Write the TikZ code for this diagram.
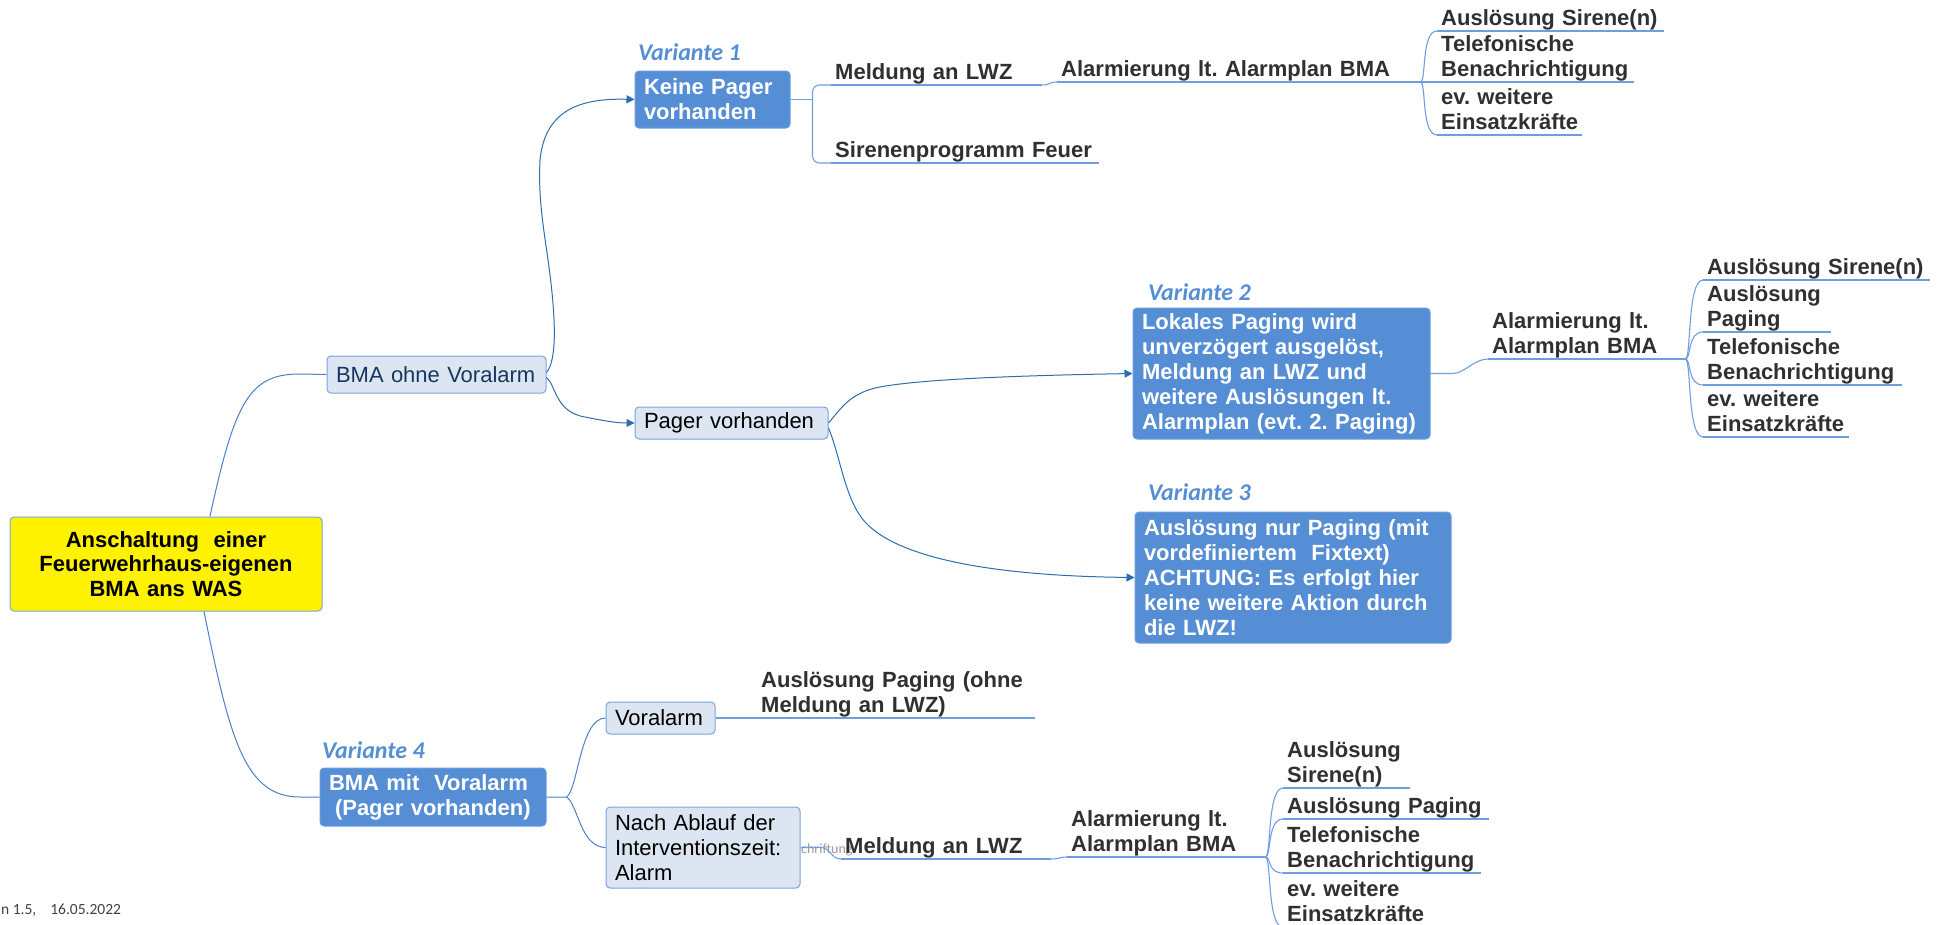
\documentclass[tikz,border=0pt]{standalone}
\usepackage{fontspec}
\setmainfont{Liberation Sans}
\newfontfamily\calibri{Carlito}
\usetikzlibrary{arrows.meta,calc}
\hyphenpenalty=10000
\exhyphenpenalty=10000
\frenchspacing

\definecolor{vblue}{HTML}{558ED5}
\definecolor{vblueline}{HTML}{6B9CE0}
\definecolor{lblue}{HTML}{DCE6F2}
\definecolor{lblueline}{HTML}{7AA3DC}
\definecolor{rootline}{HTML}{4A80C8}
\definecolor{arrline}{HTML}{2C6DB0}
\definecolor{subline}{HTML}{6E9EDF}
\definecolor{txtgray}{HTML}{303030}
\definecolor{navy}{HTML}{17365D}

\begin{document}
\begin{tikzpicture}[x=1pt,y=-1pt,
    box/.style={rounded corners=4pt, line width=1pt, inner xsep=9pt, inner ysep=0pt, align=left},
    rootbox/.style={box, fill=yellow, draw=lblueline, align=center, font=\fontsize{22}{24.7}\selectfont\bfseries},
    vbox/.style={box, fill=vblue, draw=vblueline, text=white, font=\fontsize{22}{25}\selectfont\bfseries},
    lbox/.style={box, fill=lblue, draw=lblueline, text=black, font=\fontsize{22}{25}\selectfont},
    vlabel/.style={anchor=base west, inner sep=0pt, text=vblue, font=\fontsize{24}{28}\calibri\bfseries\itshape},
    topic/.style={anchor=south west, inner xsep=4pt, inner ysep=0pt, align=left, text=txtgray,
        font=\fontsize{22}{25}\selectfont\bfseries, execute at end node={\rule[-5pt]{0pt}{5pt}}},
    rootcon/.style={draw=rootline, line width=1pt},
    arr/.style={draw=arrline, line width=1pt, -{Triangle[length=8pt,width=8pt]}},
    sub/.style={draw=subline, line width=1.1pt}]
    \useasboundingbox (0,0) rectangle (1943,924);
    %中心主题
    \node[rootbox, text width=294pt, minimum height=94pt] (root) at (166,564)
        {Anschaltung\ \ einer\\Feuerwehrhaus-eigenen\\BMA ans WAS};
    %一级和二级主题
    \node[lbox, text=navy, text width=201pt, minimum height=37pt] (ohne) at (436.5,374.5) {BMA ohne Voralarm};
    \node[lbox, text width=175pt, minimum height=32pt] (pager) at (731.5,423) {Pager vorhanden};
    \node[vbox, text width=137pt, minimum height=57pt] (v1) at (712.5,99.5) {Keine Pager\\vorhanden};
    \node[vbox, text width=279pt, minimum height=131pt] (v2) at (1281.5,373.5)
        {Lokales Paging wird\\unverzögert ausgelöst,\\Meldung an LWZ und\\weitere Auslösungen lt.\\Alarmplan (evt. 2. Paging)};
    \node[vbox, text width=298pt, minimum height=131pt] (v3) at (1293,577.5)
        {Auslösung nur Paging (mit\\vordefiniertem\ \ Fixtext)\\ACHTUNG: Es erfolgt hier\\keine weitere Aktion durch\\die LWZ!};
    \node[vbox, text width=208pt, minimum height=58pt] (v4) at (433,797)
        {BMA mit\ \ Voralarm\\\hspace*{6pt}(Pager vorhanden)};
    \node[lbox, text width=91pt, minimum height=32pt] (vor) at (660.5,718) {Voralarm};
    \node[lbox, text width=176pt, minimum height=81pt] (nach) at (703,847.5)
        {Nach Ablauf der\\Interventionszeit:\\Alarm};
    %标签 Variante
    \node[vlabel] (lv1) at (638,60) {Variante 1};
    \node[vlabel] (lv2) at (1148,300) {Variante 2};
    \node[vlabel] (lv3) at (1148,500) {Variante 3};
    \node[vlabel] (lv4) at (322,758) {Variante 4};
    %残留的浅色文字
    \node[anchor=west, inner sep=0pt, text=black!40, font=\fontsize{14}{17}\calibri] (hint) at (801,850) {chriftung};
    %Variante 1 的分支
    \node[topic, text width=203pt] (t1a) at (831,85) {Meldung an LWZ};
    \node[topic, text width=355pt] (t1b) at (1057,82) {Alarmierung lt. Alarmplan BMA};
    \node[topic, text width=219pt] (t1c) at (1437,31) {Auslösung Sirene(n)};
    \node[topic, text width=189pt] (t1d) at (1437,82) {Telefonische\\Benachrichtigung};
    \node[topic, text width=137pt] (t1e) at (1437,135) {ev. weitere\\Einsatzkräfte};
    \node[topic, text width=260pt] (t1f) at (831,163) {Sirenenprogramm Feuer};
    %Variante 2 的分支
    \node[topic, text width=189pt] (t2a) at (1488,359) {Alarmierung lt.\\Alarmplan BMA};
    \node[topic, text width=219pt] (t2b) at (1703,280) {Auslösung Sirene(n)};
    \node[topic, text width=120pt] (t2c) at (1703,332) {Auslösung\\Paging};
    \node[topic, text width=191pt] (t2d) at (1703,385) {Telefonische\\Benachrichtigung};
    \node[topic, text width=138pt] (t2e) at (1703,437) {ev. weitere\\Einsatzkräfte};
    %Variante 4 的分支
    \node[topic, text width=270pt] (t4a) at (757,718) {Auslösung Paging (ohne\\Meldung an LWZ)};
    \node[topic, text width=202pt] (t4b) at (841,859) {Meldung an LWZ};
    \node[topic, text width=190pt] (t4c) at (1067,857) {Alarmierung lt.\\Alarmplan BMA};
    \node[topic, text width=119pt] (t4d) at (1283,788) {Auslösung\\Sirene(n)};
    \node[topic, text width=198pt] (t4e) at (1283,819) {Auslösung Paging};
    \node[topic, text width=190pt] (t4f) at (1283,873) {Telefonische\\Benachrichtigung};
    \node[topic, text width=141pt] (t4g) at (1283,927) {ev. weitere\\Einsatzkräfte};
    %版本号
    \node[anchor=base west, inner sep=0pt, text=black!75, font=\fontsize{15.5}{18}\calibri] (ver) at (1,914)
        {n 1.5,\hspace{14pt}16.05.2022};
    %中心主题的连线
    \draw[rootcon] ([xshift=44pt]root.north) .. controls (235,400) and (250,374) .. (300,374) -- (ohne.west);
    \draw[rootcon] ([xshift=38pt]root.south) .. controls (230,740) and (245,797) .. (300,797) -- (v4.west);
    %带箭头的连线
    \draw[arr] ([yshift=2pt]ohne.east) .. controls (557,360) and (556,320) .. (549,267)
        .. controls (544,230) and (538,200) .. (540,160) .. controls (545,110) and (580,98) .. (v1.west);
    \draw[arr] ([yshift=-3pt]ohne.east) .. controls (556,385) and (555,412) .. (585,417)
        .. controls (600,420) and (615,423) .. (pager.west);
    \draw[arr] (pager.east) .. controls (840,410) and (848,395) .. (875,388)
        .. controls (920,378) and (1050,375) .. (v2.west);
    \draw[arr] ([yshift=-5pt]pager.east) .. controls (840,455) and (845,500) .. (865,522)
        .. controls (900,560) and (1000,576) .. (v3.west);
    %Variante 4 到下一级
    \draw[rootcon] (v4.east) -- ++(20,0) coordinate (b4) .. controls (578,790) and (580,718) .. (vor.west);
    \draw[rootcon] (b4) .. controls (578,804) and (580,847) .. (nach.west);
    %所有主题下划线
    \foreach \n in {t1a,t1b,t1c,t1d,t1e,t1f,t2a,t2b,t2c,t2d,t2e,t4a,t4b,t4c,t4d,t4e,t4f,t4g}
        \draw[sub] (\n.south west) -- (\n.south east);
    %Variante 1 的括号
    \draw[sub] (v1.east) -- ++(22,0) coordinate (b1);
    \draw[sub, rounded corners=7pt] (t1a.south west) -| (b1) |- (t1f.south west);
    \draw[sub] (t1a.south east) .. controls +(8,0) and +(-8,0) .. (t1b.south west);
    \draw[sub] (t1b.south east) -- (t1d.south west);
    \foreach \c in {t1c,t1e}
        \draw[sub] (t1b.south east) .. controls +(6,0) and +(-16,0) .. (\c.south west);
    %Variante 2 的括号
    \draw[sub] (v2.east) -- ++(22,0) .. controls +(12,0) and +(-14,0) .. (t2a.south west);
    \foreach \c in {t2b,t2c,t2d,t2e}
        \draw[sub] (t2a.south east) .. controls +(6,0) and +(-16,0) .. (\c.south west);
    %Variante 4 的括号
    \draw[sub] (vor.east) -- (t4a.south west);
    \draw[sub] (nach.east) -- ++(20,0) .. controls +(10,0) and +(-10,0) .. (t4b.south west);
    \draw[sub] (t4b.south east) .. controls +(8,0) and +(-8,0) .. (t4c.south west);
    \foreach \c in {t4d,t4e,t4f,t4g}
        \draw[sub] (t4c.south east) .. controls +(6,0) and +(-16,0) .. (\c.south west);
\end{tikzpicture}
\end{document}
